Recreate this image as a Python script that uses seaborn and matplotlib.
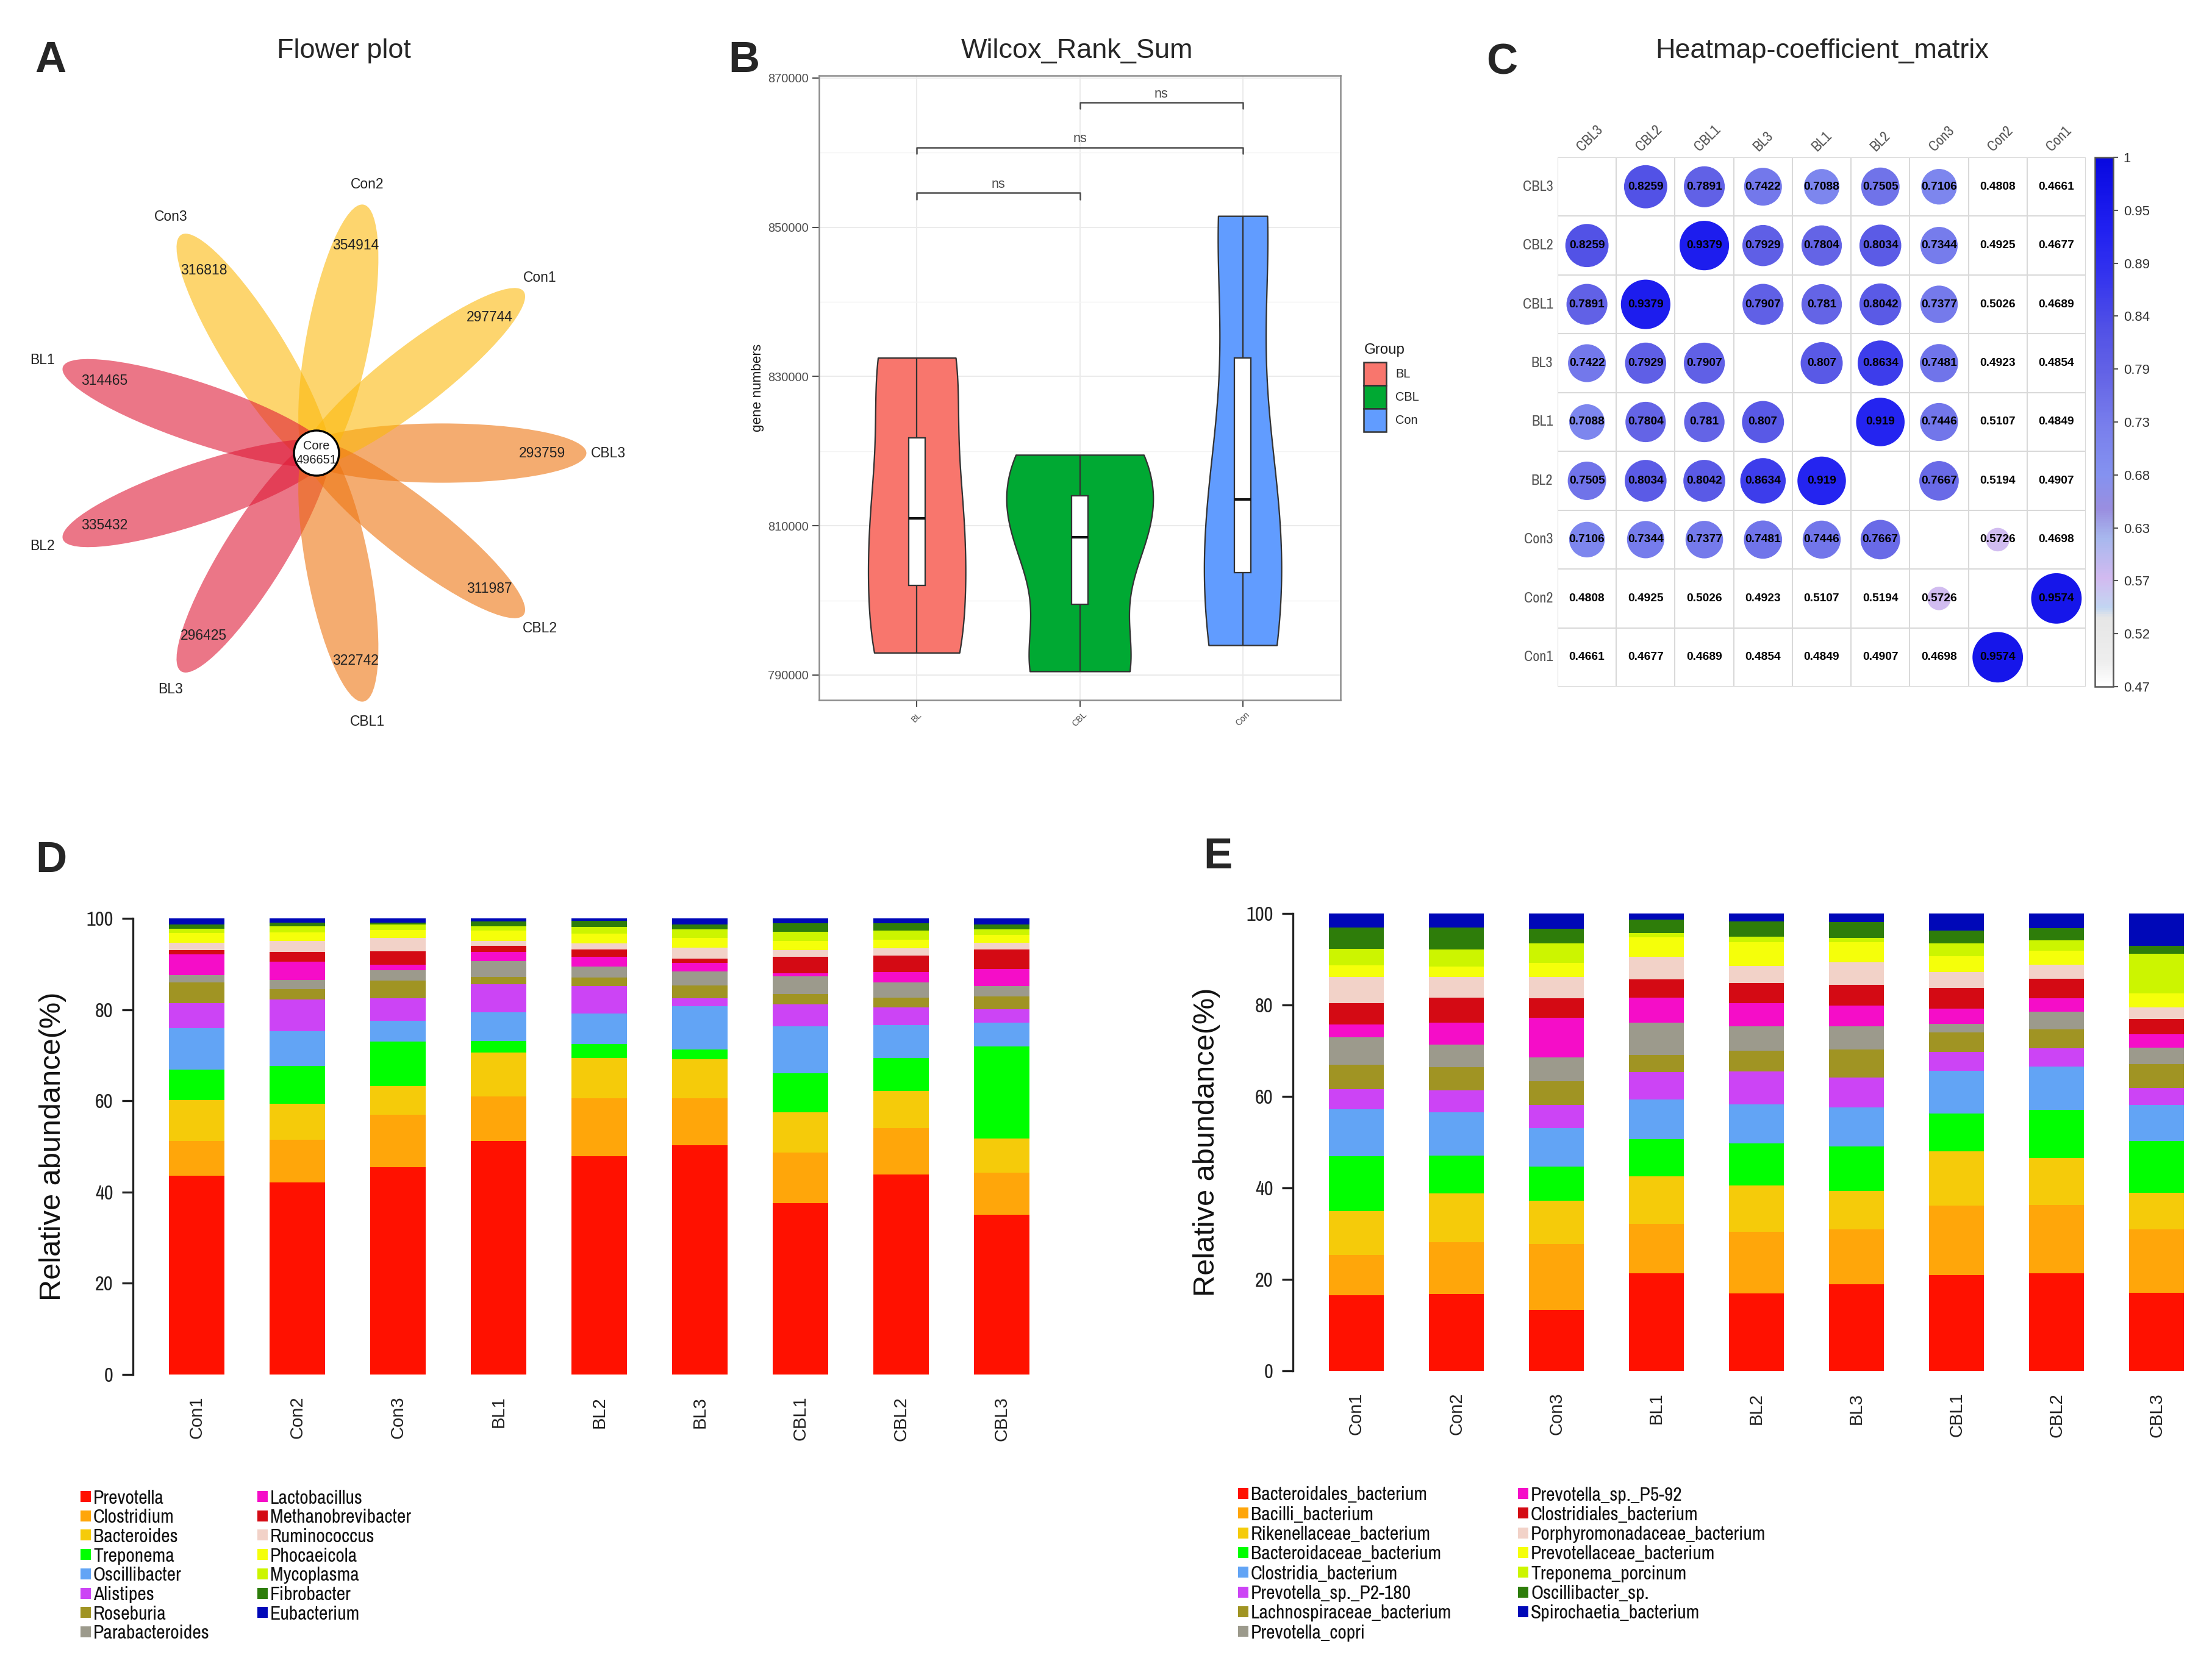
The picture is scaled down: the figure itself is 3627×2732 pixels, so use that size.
import numpy as np
import pandas as pd
import matplotlib
matplotlib.use("Agg")
import matplotlib.pyplot as plt
import seaborn as sns
from matplotlib import font_manager
from matplotlib.patches import Ellipse, Patch, Rectangle
from matplotlib.colors import LinearSegmentedColormap, Normalize
from matplotlib.cm import ScalarMappable

# ---------------- A: flower plot ----------------
petal_names = ["CBL3", "Con1", "Con2", "Con3", "BL1", "BL2", "BL3", "CBL1", "CBL2"]
petal_counts = [293759, 297744, 354914, 316818, 314465, 335432, 296425, 322742, 311987]
core_count = 496651
petal_colors = {"Con": "#FCB90D", "CBL": "#EE7511", "BL": "#DF1B37"}

# ---------------- B: gene numbers ----------------
groups = ["BL", "CBL", "Con"]
genes_BL = [793000, 811000, 832500]
genes_CBL = [790500, 808500, 819500]
genes_Con = [794000, 813500, 851500]
group_colors = ["#F8766D", "#00A933", "#619CFF"]
sig_pairs = [("BL", "CBL"), ("BL", "Con"), ("CBL", "Con")]
sig_heights = [854600, 860700, 866700]

# ---------------- C: correlation matrix ----------------
corr_names = ["CBL3", "CBL2", "CBL1", "BL3", "BL1", "BL2", "Con3", "Con2", "Con1"]
corr_values = [
    [1, 0.8259, 0.7891, 0.7422, 0.7088, 0.7505, 0.7106, 0.4808, 0.4661],
    [0.8259, 1, 0.9379, 0.7929, 0.7804, 0.8034, 0.7344, 0.4925, 0.4677],
    [0.7891, 0.9379, 1, 0.7907, 0.781, 0.8042, 0.7377, 0.5026, 0.4689],
    [0.7422, 0.7929, 0.7907, 1, 0.807, 0.8634, 0.7481, 0.4923, 0.4854],
    [0.7088, 0.7804, 0.781, 0.807, 1, 0.919, 0.7446, 0.5107, 0.4849],
    [0.7505, 0.8034, 0.8042, 0.8634, 0.919, 1, 0.7667, 0.5194, 0.4907],
    [0.7106, 0.7344, 0.7377, 0.7481, 0.7446, 0.7667, 1, 0.5726, 0.4698],
    [0.4808, 0.4925, 0.5026, 0.4923, 0.5107, 0.5194, 0.5726, 1, 0.9574],
    [0.4661, 0.4677, 0.4689, 0.4854, 0.4849, 0.4907, 0.4698, 0.9574, 1],
]
cbar_labels = ["0.47", "0.52", "0.57", "0.63", "0.68", "0.73", "0.79", "0.84", "0.89", "0.95", "1"]

# ---------------- D / E: relative abundance ----------------
samples = ["Con1", "Con2", "Con3", "BL1", "BL2", "BL3", "CBL1", "CBL2", "CBL3"]
genera = ["Prevotella", "Clostridium", "Bacteroides", "Treponema", "Oscillibacter",
          "Alistipes", "Roseburia", "Parabacteroides", "Lactobacillus",
          "Methanobrevibacter", "Ruminococcus", "Phocaeicola", "Mycoplasma",
          "Fibrobacter", "Eubacterium"]
genus_abund = [
    [43.6, 42.1, 45.4, 51.2, 47.8, 50.3, 37.6, 43.9, 35.0],
    [7.6, 9.4, 11.5, 9.8, 12.7, 10.3, 11.1, 10.1, 9.2],
    [9.0, 7.9, 6.3, 9.6, 8.9, 8.5, 8.8, 8.2, 7.5],
    [6.7, 8.3, 9.8, 2.5, 3.1, 2.1, 8.6, 7.2, 20.2],
    [9.1, 7.6, 4.5, 6.3, 6.6, 9.6, 10.3, 7.2, 5.3],
    [5.4, 6.9, 5.0, 6.1, 6.0, 1.7, 4.7, 3.9, 2.9],
    [4.5, 2.3, 3.9, 1.6, 1.9, 2.8, 2.3, 2.1, 2.8],
    [1.7, 2.0, 2.3, 3.6, 2.4, 3.1, 3.9, 3.4, 2.2],
    [4.5, 4.0, 1.2, 1.9, 2.2, 1.8, 0.7, 2.2, 3.8],
    [1.0, 2.1, 2.9, 1.4, 1.6, 1.0, 3.6, 3.7, 4.3],
    [1.5, 2.5, 2.9, 1.1, 1.3, 2.4, 1.5, 1.5, 1.4],
    [2.2, 1.8, 1.7, 2.2, 2.1, 2.1, 2.0, 1.9, 1.8],
    [0.9, 1.3, 1.2, 1.0, 1.5, 1.9, 1.9, 2.0, 1.2],
    [0.9, 0.8, 0.5, 1.0, 1.3, 1.0, 1.9, 1.6, 1.1],
    [1.4, 1.0, 0.9, 0.7, 0.6, 1.4, 1.1, 1.1, 1.3],
]
species = ["Bacteroidales_bacterium", "Bacilli_bacterium", "Rikenellaceae_bacterium",
           "Bacteroidaceae_bacterium", "Clostridia_bacterium", "Prevotella_sp._P2-180",
           "Lachnospiraceae_bacterium", "Prevotella_copri", "Prevotella_sp._P5-92",
           "Clostridiales_bacterium", "Porphyromonadaceae_bacterium",
           "Prevotellaceae_bacterium", "Treponema_porcinum", "Oscillibacter_sp.",
           "Spirochaetia_bacterium"]
species_abund = [
    [16.5, 16.8, 13.4, 21.3, 16.9, 18.9, 20.9, 21.4, 17.1],
    [8.8, 11.3, 14.3, 10.8, 13.5, 12.0, 15.2, 14.9, 13.8],
    [9.7, 10.7, 9.5, 10.4, 10.2, 8.4, 11.9, 10.2, 8.0],
    [11.9, 8.3, 7.5, 8.2, 9.2, 9.8, 8.3, 10.6, 11.4],
    [10.3, 9.4, 8.4, 8.6, 8.5, 8.5, 9.3, 9.4, 7.9],
    [4.4, 4.8, 5.1, 6.0, 7.2, 6.6, 4.2, 4.1, 3.7],
    [5.3, 5.1, 5.1, 3.8, 4.5, 6.1, 4.2, 4.1, 5.2],
    [6.1, 5.0, 5.2, 7.0, 5.3, 5.0, 1.9, 3.8, 3.6],
    [2.8, 4.8, 8.7, 5.5, 5.1, 4.6, 3.3, 3.0, 2.9],
    [4.6, 5.4, 4.3, 4.0, 4.4, 4.5, 4.5, 4.3, 3.4],
    [5.7, 4.5, 4.6, 5.0, 3.7, 4.9, 3.5, 3.0, 2.5],
    [2.6, 2.3, 3.1, 4.2, 5.2, 4.4, 3.5, 3.1, 3.1],
    [3.6, 3.7, 4.3, 1.0, 1.2, 1.0, 2.8, 2.3, 8.6],
    [4.7, 4.8, 3.2, 2.9, 3.4, 3.5, 2.8, 2.6, 1.7],
    [3.0, 3.1, 3.3, 1.3, 1.7, 1.8, 3.7, 3.2, 7.1],
]
taxa_colors = ["#FF1100", "#FFA60A", "#F5CB0A", "#00FF00", "#62A4F5", "#CC44F5",
               "#A09423", "#9C9A8C", "#F50DC8", "#D40A14", "#F2D2C8", "#F5FF0A",
               "#CCF500", "#2E7D0A", "#0008B8"]

# ---------------- style ----------------
sns.set_style("white")
plt.rcParams["font.family"] = ["Liberation Sans", "DejaVu Sans"]
font_names = {f.name for f in font_manager.fontManager.ttflist}
NARROW = next((f for f in ["Liberation Sans Narrow", "Archivo Narrow", "Roboto Condensed"]
               if f in font_names), "Liberation Sans")
nscale = 0.84 if NARROW == "Liberation Sans" else 1.0
NFAM = [NARROW, "DejaVu Sans"]

W, H, DPI = 3627, 2732, 300
fig = plt.figure(figsize=(W / DPI, H / DPI), dpi=DPI)


def box(x0, y0, x1, y1):
    return [x0 / W, 1 - y1 / H, (x1 - x0) / W, (y1 - y0) / H]


def ftext(x, y, s, **kw):
    fig.text(x / W, 1 - y / H, s, **kw)


# panel letters and titles
for letter, (lx, ly) in zip("ABCDE", [(83, 100), (1220, 100), (2463, 104), (84, 1412), (1997, 1406)]):
    ftext(lx, ly, letter, fontsize=17, fontweight="bold", ha="center", va="center")
ftext(564, 84, "Flower plot", fontsize=10.8, ha="center", va="center")
ftext(1766, 84, "Wilcox_Rank_Sum", fontsize=10.8, ha="center", va="center")
ftext(2988, 83, "Heatmap-coefficient_matrix", fontsize=10.8, ha="center", va="center")

# ---------------- A ----------------
cx, cy, squash = 519, 743, 0.935
ax_a = fig.add_axes(box(0, 150, 1100, 1350))
ax_a.set_xlim(-cx, 1100 - cx)
ax_a.set_ylim(-(1350 - cy) / squash, (cy - 150) / squash)
ax_a.axis("off")
for i, (name, cnt) in enumerate(zip(petal_names, petal_counts)):
    th = np.deg2rad(40 * i)
    grp = name.rstrip("0123456789")
    ax_a.add_patch(Ellipse((206 * np.cos(th), 206 * np.sin(th)), 473, 104, angle=40 * i,
                           facecolor=petal_colors[grp], alpha=0.6, linewidth=0))
for i, (name, cnt) in enumerate(zip(petal_names, petal_counts)):
    th = np.deg2rad(40 * i)
    ax_a.text(370 * np.cos(th), 370 * np.sin(th), str(cnt), fontsize=5.5,
              ha="center", va="center", color="#222222")
    ax_a.text(478 * np.cos(th), 478 * np.sin(th), name, fontsize=5.5,
              ha="center", va="center", color="#222222")
ax_a.add_patch(Ellipse((0, 0), 74, 74 / squash, facecolor="white", edgecolor="black", linewidth=0.8))
ax_a.text(0, 0, f"Core\n{core_count}", fontsize=4.8, ha="center", va="center",
          color="#222222", linespacing=1.25)

# ---------------- B ----------------
ax_b = fig.add_axes(box(1343, 124, 2198, 1148))
genes_df = pd.DataFrame({
    "group": ["BL"] * len(genes_BL) + ["CBL"] * len(genes_CBL) + ["Con"] * len(genes_Con),
    "genes": genes_BL + genes_CBL + genes_Con,
})
sns.violinplot(data=genes_df, x="group", y="genes", hue="group", order=groups, hue_order=groups,
               palette=group_colors, cut=0, bw_adjust=0.665, inner=None, width=0.9,
               density_norm="area", common_norm=True, saturation=1, linewidth=0.55,
               linecolor="#333333", legend=False, ax=ax_b)
sns.boxplot(data=genes_df, x="group", y="genes", order=groups, width=0.1, color="white",
            saturation=1, linewidth=0.55, linecolor="#333333", showfliers=False,
            medianprops=dict(linewidth=1.0, color="#111111"), capprops=dict(linewidth=0),
            ax=ax_b)
for (g1, g2), yb in zip(sig_pairs, sig_heights):
    x1, x2 = groups.index(g1), groups.index(g2)
    ax_b.plot([x1, x1, x2, x2], [yb - 850, yb, yb, yb - 850], color="#4D4D4D", lw=0.6)
    ax_b.text((x1 + x2) / 2, yb + 250, "ns", ha="center", va="bottom", fontsize=5.2, color="#4D4D4D")
yt = [790000, 810000, 830000, 850000, 870000]
ax_b.set_yticks(yt, labels=[str(t) for t in yt])
ax_b.set_yticks([800000, 820000, 840000, 860000], minor=True)
ax_b.set_ylim(786650, 870300)
ax_b.set_xlim(-0.6, 2.6)
ax_b.set_xticks(range(len(groups)), labels=groups)
ax_b.grid(True, which="major", color="#EBEBEB", lw=0.5)
ax_b.grid(True, which="minor", axis="y", color="#F4F4F4", lw=0.35)
ax_b.set_axisbelow(True)
ax_b.tick_params(axis="y", which="major", labelsize=4.8, labelcolor="#4D4D4D", length=2.6,
                 width=0.5, color="#4D4D4D", left=True, pad=1.5)
ax_b.tick_params(axis="x", which="major", labelsize=3.4, labelcolor="#4D4D4D", length=2.6,
                 width=0.5, color="#4D4D4D", bottom=True, pad=1.5)
ax_b.tick_params(which="minor", length=0)
for lab in ax_b.get_xticklabels():
    lab.set_rotation(45)
    lab.set_ha("center")
for sp in ax_b.spines.values():
    sp.set_color("#8C8C8C")
    sp.set_linewidth(0.6)
ax_b.set_xlabel("")
ax_b.set_ylabel("gene numbers", fontsize=5.4, color="#1A1A1A")
ax_b.yaxis.set_label_coords(-0.105, 0.5)
ftext(2237, 574, "Group", fontsize=5.8, ha="left", va="center", color="#1A1A1A")
fig.legend(handles=[Patch(facecolor=c, edgecolor="#333333", linewidth=0.6, label=g)
                    for g, c in zip(groups, group_colors)],
           loc="upper left", bbox_to_anchor=(2236 / W, 1 - 594 / H),
           frameon=False, prop=dict(size=4.8), handlelength=1.85,
           handleheight=2.55, labelspacing=0.0, handletextpad=0.75,
           borderpad=0, borderaxespad=0)

# ---------------- C ----------------
corr = np.array(corr_values, dtype=float)
vmin = corr.min()
cmap = LinearSegmentedColormap.from_list("corr", [
    (0.0, "#FFFFFF"), ((0.49 - vmin) / (1 - vmin), "#EEEEEE"),
    ((0.535 - vmin) / (1 - vmin), "#E6E6E6"), ((0.545 - vmin) / (1 - vmin), "#C2D6F2"),
    ((0.575 - vmin) / (1 - vmin), "#D2BAF0"), ((0.615 - vmin) / (1 - vmin), "#A8B8EE"),
    ((0.645 - vmin) / (1 - vmin), "#9A8EE0"), ((0.68 - vmin) / (1 - vmin), "#8492F0"),
    ((0.73 - vmin) / (1 - vmin), "#787EEC"), ((0.78 - vmin) / (1 - vmin), "#6464E6"),
    ((0.83 - vmin) / (1 - vmin), "#5050E6"), ((0.88 - vmin) / (1 - vmin), "#3434EE"),
    ((0.93 - vmin) / (1 - vmin), "#2020F0"), (1.0, "#0808E0"),
])
ax_c = fig.add_axes(box(2554, 258, 3420, 1126))
n = len(corr_names)
rows, cols = np.indices(corr.shape)
cdf = pd.DataFrame({"row": rows.ravel(), "col": cols.ravel(), "val": corr.ravel()})
cell_pt = (866 / n) * 72 / DPI
circ = cdf[(cdf.row != cdf.col) & (cdf.val > 0.55)]
sns.scatterplot(data=circ, x="col", y="row", hue="val", size="val", hue_norm=(vmin, 1),
                size_norm=(vmin, 1), sizes=(0, (0.897 * cell_pt) ** 2), palette=cmap,
                linewidth=0, legend=False, ax=ax_c)
for _, r in cdf[cdf.row != cdf.col].iterrows():
    ax_c.text(r.col, r.row, f"{r.val:g}", ha="center", va="center", fontsize=4.6,
              fontweight="bold", color="black")
for k in range(n + 1):
    ax_c.axhline(k - 0.5, color="#D9D9D9", lw=0.5)
    ax_c.axvline(k - 0.5, color="#D9D9D9", lw=0.5)
ax_c.set_xlim(-0.5, n - 0.5)
ax_c.set_ylim(n - 0.5, -0.5)
ax_c.axis("off")
for k, name in enumerate(corr_names):
    ax_c.text(-0.58, k, name, ha="right", va="center", fontsize=5.8 * nscale, family=NFAM,
              color="#555555")
    ax_c.text(k - 0.05, -0.56, name, ha="left", va="bottom", rotation=45, rotation_mode="anchor",
              fontsize=5.8 * nscale, family=NFAM, color="#555555", clip_on=False)
cax = fig.add_axes(box(3435, 258, 3465, 1126))
cb = fig.colorbar(ScalarMappable(norm=Normalize(vmin, 1), cmap=cmap), cax=cax)
cb.set_ticks(np.linspace(vmin, 1, len(cbar_labels)), labels=cbar_labels)
cb.outline.set_edgecolor("#555555")
cb.outline.set_linewidth(0.6)
cax.tick_params(labelsize=5.3, labelcolor="#333333", length=2, width=0.5, color="#555555", pad=2)

# ---------------- D / E ----------------
def draw_stack(ax, abund):
    tops = np.cumsum(np.array(abund), axis=0)
    for k in range(len(abund) - 1, -1, -1):
        sns.barplot(x=samples, y=tops[k], order=samples, color=taxa_colors[k], width=0.55,
                    saturation=1, linewidth=0, errorbar=None, ax=ax)
    ax.set_xlim(-0.634, 8.45)
    ax.set_ylim(0, 100)
    ax.set_yticks([0, 20, 40, 60, 80, 100])
    ax.set_xticks(range(len(samples)), labels=samples)
    for sp in ["top", "right", "bottom"]:
        ax.spines[sp].set_visible(False)
    ax.spines["left"].set_color("#222222")
    ax.spines["left"].set_linewidth(0.8)
    ax.tick_params(axis="y", left=True, length=4.3, width=0.8, color="#222222", pad=3.5)
    ax.tick_params(axis="x", bottom=False, length=0, pad=8.6, labelsize=7, labelrotation=90,
                   labelcolor="#222222")
    for lab in ax.get_yticklabels():
        lab.set_family(NFAM)
        lab.set_fontsize(7.8 * nscale)
        lab.set_color("#222222")
    ax.set_xlabel("")
    ax.set_ylabel("Relative abundance(%)", fontsize=11.7, color="#111111")


ax_d = fig.add_axes([218 / W, 1 - 2254 / H, 1499 / W, (2254 - 1506) / H])
draw_stack(ax_d, genus_abund)
ax_d.yaxis.set_label_coords(-0.073, 0.5)
ax_e = fig.add_axes([2120 / W, 1 - 2248 / H, 1490 / W, (2248 - 1498) / H])
draw_stack(ax_e, species_abund)
ax_e.yaxis.set_label_coords(-0.08, 0.5)


def taxa_legend(names, idx, x, y0, pitch):
    for r, k in enumerate(idx):
        yc = y0 + r * pitch
        fig.add_artist(Rectangle((x / W, 1 - (yc + 9) / H), 17 / W, 18 / H,
                                 transform=fig.transFigure, facecolor=taxa_colors[k], linewidth=0))
        ftext(x + 21, yc, names[k], family=NFAM, fontsize=7.6 * nscale, ha="left",
              va="center_baseline", color="#111111")


taxa_legend(genera, range(0, 8), 132, 2454, 31.7)
taxa_legend(genera, range(8, 15), 422, 2454, 31.7)
taxa_legend(species, range(0, 8), 2030, 2449, 32.3)
taxa_legend(species, range(8, 15), 2489, 2449, 32.3)

fig.savefig("out.png", dpi=DPI, facecolor="white")
